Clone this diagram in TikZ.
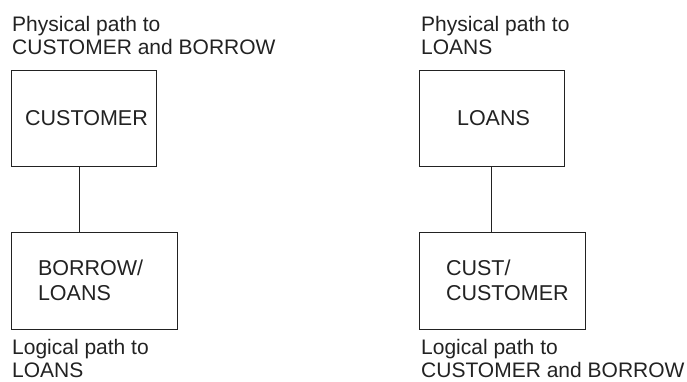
\documentclass[tikz,border=0pt]{standalone}
\usepackage{fontspec}
\setmainfont{Liberation Sans}
\definecolor{ink}{HTML}{222222}
\begin{document}
\begin{tikzpicture}[x=1pt,y=-1pt,
  lbl/.style={anchor=base west, inner sep=0pt, align=left, text=ink, font=\fontsize{21}{23}\selectfont},
  box/.style={draw=ink, line width=1pt, align=left, text=ink, inner sep=0pt, font=\fontsize{21.5}{25}\selectfont},
  lowbox/.style={box, minimum width=166, minimum height=97, text width=112pt, inner xsep=27pt},
  link/.style={draw=ink, line width=1pt}]
\useasboundingbox (0,0) rectangle (687,381);
% left
\node[lbl] (pl) at (12,54) {Physical path to\\CUSTOMER and BORROW};
\node[box, minimum width=145, minimum height=96] (A) at (83.5,118) {\hspace*{6pt}CUSTOMER};
\node[lowbox] (B) at (94,280.5) {BORROW/\\LOANS};
\node[lbl] (ll) at (12,377) {Logical path to\\LOANS};
\draw[link] ([xshift=-4.5pt]A.south) -- ([xshift=-4.5pt]A.south |- B.north);
% right
\node[lbl] (pr) at (421,54) {Physical path to\\LOANS};
\node[box, minimum width=145, minimum height=96] (C) at (491.5,118) {\hspace*{4pt}LOANS};
\node[lowbox] (D) at (502,280.5) {CUST/\\CUSTOMER};
\node[lbl] (lr) at (421,377) {Logical path to\\CUSTOMER and BORROW};
\draw[link] (C.south) -- (C.south |- D.north);
\end{tikzpicture}
\end{document}
